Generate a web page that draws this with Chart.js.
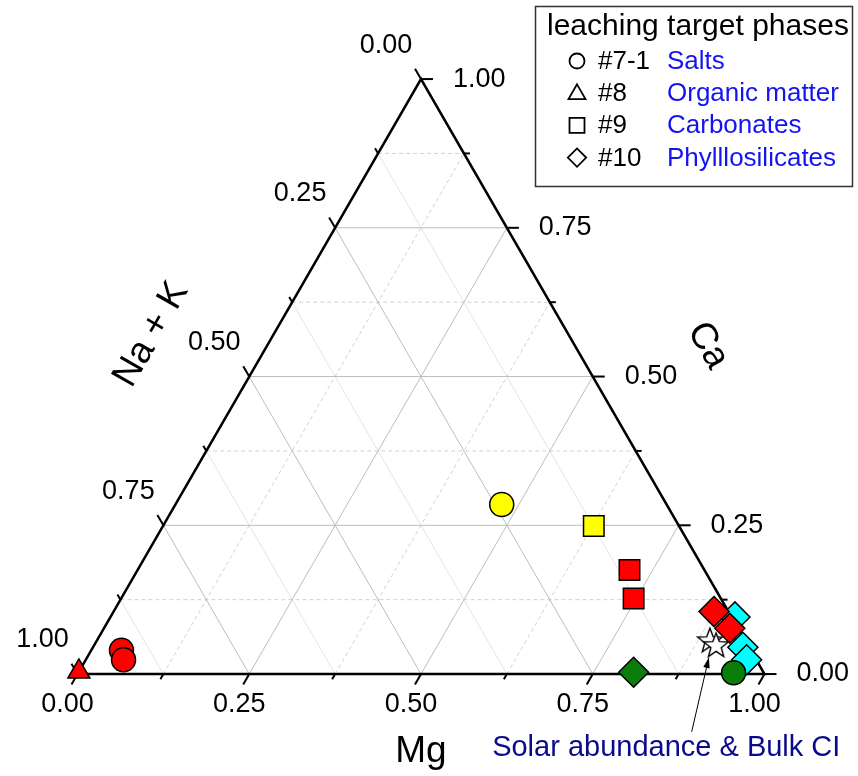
<!DOCTYPE html>
<html>
<head>
<meta charset="utf-8">
<title>Ternary Mg - Ca - Na+K</title>
<script src="https://cdn.jsdelivr.net/npm/chart.js@4.4.1/dist/chart.umd.min.js"></script>
<style>
    html, body { margin: 0; padding: 0; background: #fff; }
    #wrap { width: 858px; height: 776px; }
</style>
</head>
<body>
<div id="wrap"><canvas id="ternary" width="858" height="776"></canvas></div>
<script>
'use strict';

// axis ticks (same for all three axes)
var tickValues = [0, 0.25, 0.5, 0.75, 1];
var tickLabels = ['0.00', '0.25', '0.50', '0.75', '1.00'];
var minorValues = [0.125, 0.375, 0.625, 0.875];

// points as [Mg, Ca], Na + K = 1 - Mg - Ca
var saltsRed = [[0.044, 0.040], [0.055, 0.024]];
var saltsYellow = [[0.475, 0.285]];
var saltsGreen = [[0.954, 0.002]];
var organicRed = [[0.000, 0.004]];
var carbonatesYellow = [[0.627, 0.249]];
var carbonatesRed = [[0.716, 0.175], [0.746, 0.127]];
var phylloGreen = [[0.808, 0.003]];
var phylloRed = [[0.874, 0.105], [0.911, 0.077]];
var phylloCyan = [[0.909, 0.096], [0.946, 0.045], [0.962, 0.024]];
var solarBulkCI = [[0.892, 0.057], [0.905, 0.049]];

var legendTitle = 'leaching target phases';
var legendSteps = ['#7-1', '#8', '#9', '#10'];
var legendPhases = ['Salts', 'Organic matter', 'Carbonates', 'Phylllosilicates'];
var legendShapes = ['circle', 'triangle', 'rect', 'rectRot'];
var axisTitles = ['Mg', 'Ca', 'Na + K'];
var noteText = 'Solar abundance & Bulk CI';

var FONT = '"Liberation Sans", Arial, Helvetica, sans-serif';
var H = Math.sqrt(3) / 2;

function tern(mg, ca) {
    return {x: mg + ca / 2, y: ca * H};
}

function toPoints(list) {
    return list.map(function (p) { return tern(p[0], p[1]); });
}

function makeStar(r) {
    var size = Math.ceil(2 * r + 4),
        c = document.createElement('canvas'),
        g = c.getContext('2d');

    c.width = size;
    c.height = size;
    g.translate(size / 2, size / 2 + 1);
    g.beginPath();
    for (var i = 0; i < 10; i++) {
        var rr = i % 2 ? r * 0.42 : r,
            a = -Math.PI / 2 + i * Math.PI / 5;
        g.lineTo(rr * Math.cos(a), rr * Math.sin(a));
    }
    g.closePath();
    g.fillStyle = '#fff';
    g.fill();
    g.lineWidth = 1.4;
    g.strokeStyle = '#000';
    g.stroke();
    return c;
}

var datasets = [];

function addLine(a, b, color, width, dash, order) {
    datasets.push({
        data: [a, b],
        showLine: true,
        borderColor: color,
        borderWidth: width,
        borderDash: dash,
        pointRadius: 0,
        order: order
    });
}

// grid: Ca = const horizontal, Mg = const parallel to left side, Na+K = const parallel to right side
function addGrid(v, major) {
    var solid = major ? '#bdbdbd' : '#e3e3e3',
        dashed = major ? '#bdbdbd' : '#d2d2d2',
        dash = major ? [] : [4, 3];

    addLine(tern(0, v), tern(1 - v, v), dashed, 1, dash, 20);
    addLine(tern(v, 0), tern(v, 1 - v), dashed, 1, dash, 20);
    addLine(tern(0, 1 - v), tern(1 - v, 0), solid, 1, [], 20);
}

tickValues.slice(1, -1).forEach(function (v) { addGrid(v, true); });
minorValues.forEach(function (v) { addGrid(v, false); });

// frame
datasets.push({
    data: [tern(0, 0), tern(1, 0), tern(0, 1), tern(0, 0)],
    showLine: true,
    borderColor: '#000',
    borderWidth: 2.5,
    pointRadius: 0,
    order: 19
});

// layers: list of [points, colour]; points are drawn in that order, later ones on top
function addMarkers(layers, style, radius, order, label) {
    var data = [], fill = [];

    layers.forEach(function (layer) {
        toPoints(layer[0]).forEach(function (p) {
            data.push(p);
            fill.push(layer[1]);
        });
    });

    datasets.push({
        label: label,
        data: data,
        showLine: false,
        pointStyle: style,
        pointRadius: radius,
        pointBackgroundColor: fill,
        pointBorderColor: '#000',
        pointBorderWidth: 1.5,
        order: order
    });
}

var RED = '#ff0000', YELLOW = '#ffff00', GREEN = '#0a7d0a', CYAN = '#00ffff';

addMarkers([[saltsGreen, GREEN]], 'circle', 12, 0, 'Salts');
addMarkers([[solarBulkCI, '#fff']], makeStar(13), 12, 1, noteText);
addMarkers([
    [phylloCyan.slice(0, 1), CYAN],
    [phylloRed, RED],
    [phylloCyan.slice(1), CYAN]
], 'rectRot', 15, 2, 'Phylllosilicates');
addMarkers([[phylloGreen, GREEN]], 'rectRot', 15, 3, 'Phylllosilicates');
addMarkers([[carbonatesYellow, YELLOW], [carbonatesRed, RED]], 'rect', 14.5, 4, 'Carbonates');
addMarkers([[saltsYellow, YELLOW], [saltsRed, RED]], 'circle', 12, 5, 'Salts');
addMarkers([[organicRed, RED]], 'triangle', 12.7, 6, 'Organic matter');

function pix(chart, p) {
    return {
        x: chart.scales.x.getPixelForValue(p.x),
        y: chart.scales.y.getPixelForValue(p.y)
    };
}

// one entry per axis: base point for value v, outward tick direction, label offset
var axes = [
    {at: function (v) { return tern(v, 0); }, dir: [-0.5, H], label: [-10, 31], align: 'center'},
    {at: function (v) { return tern(1 - v, v); }, dir: [1, 0], label: [32, 0], align: 'left'},
    {at: function (v) { return tern(0, 1 - v); }, dir: [-0.5, -H], label: [-35, -34], align: 'center'}
];

var ternaryDecor = {
    id: 'ternaryDecor',

    beforeDatasetsDraw: function (chart) {
        var ctx = chart.ctx;

        ctx.save();
        ctx.strokeStyle = '#000';
        ctx.lineWidth = 2;
        axes.forEach(function (axis) {
            var draw = function (v, len) {
                var b = pix(chart, axis.at(v));
                ctx.beginPath();
                ctx.moveTo(b.x, b.y);
                ctx.lineTo(b.x + axis.dir[0] * len, b.y + axis.dir[1] * len);
                ctx.stroke();
            };
            tickValues.forEach(function (v) { draw(v, 12); });
            minorValues.forEach(function (v) { draw(v, 6); });
        });
        ctx.restore();
    },

    afterDatasetsDraw: function (chart) {
        var ctx = chart.ctx, opts = chart.options.plugins.ternaryDecor;

        ctx.save();
        ctx.fillStyle = '#000';
        ctx.textBaseline = 'middle';
        ctx.font = '27px ' + FONT;
        axes.forEach(function (axis) {
            ctx.textAlign = axis.align;
            tickValues.forEach(function (v, i) {
                var b = pix(chart, axis.at(v));
                ctx.fillText(tickLabels[i], b.x + axis.label[0], b.y + axis.label[1]);
            });
        });

        // axis titles
        ctx.font = '37px ' + FONT;
        ctx.textAlign = 'center';
        var mid = [tern(0.5, 0), tern(0.5, 0.5), tern(0, 0.5)],
            shift = [[0, 78], [115, -31], [-98, -42]],
            turn = [0, Math.PI / 3, -Math.PI / 3];
        axisTitles.forEach(function (t, i) {
            var b = pix(chart, mid[i]);
            ctx.save();
            ctx.translate(b.x + shift[i][0], b.y + shift[i][1]);
            ctx.rotate(turn[i]);
            ctx.fillText(t, 0, 0);
            ctx.restore();
        });

        // note with arrow
        var tip = pix(chart, opts.arrow[0]), tail = pix(chart, opts.arrow[1]),
            ang = Math.atan2(tip.y - tail.y, tip.x - tail.x);
        ctx.strokeStyle = '#000';
        ctx.lineWidth = 1;
        ctx.beginPath();
        ctx.moveTo(tail.x, tail.y);
        ctx.lineTo(tip.x, tip.y);
        ctx.stroke();
        ctx.beginPath();
        ctx.moveTo(tip.x, tip.y);
        ctx.lineTo(tip.x - 11 * Math.cos(ang - 0.3), tip.y - 11 * Math.sin(ang - 0.3));
        ctx.lineTo(tip.x - 11 * Math.cos(ang + 0.3), tip.y - 11 * Math.sin(ang + 0.3));
        ctx.closePath();
        ctx.fillStyle = '#000';
        ctx.fill();

        var n = pix(chart, opts.notePos);
        ctx.font = '29px ' + FONT;
        ctx.fillStyle = '#0a0a8c';
        ctx.fillText(noteText, n.x, n.y);

        // legend box
        ctx.strokeStyle = '#333';
        ctx.lineWidth = 1.5;
        ctx.strokeRect(535.5, 6.5, 317, 180);
        ctx.textAlign = 'left';
        ctx.textBaseline = 'alphabetic';
        ctx.fillStyle = '#000';
        ctx.font = '30px ' + FONT;
        ctx.fillText(legendTitle, 547, 35);

        ctx.font = '26px ' + FONT;
        legendSteps.forEach(function (s, i) {
            var base = 69 + i * 32.2,
                radii = [7.5, 9.8, 10.6, 9.2];
            ctx.fillStyle = '#000';
            ctx.fillText(s, 598, base);
            ctx.fillStyle = '#1414f0';
            ctx.fillText(legendPhases[i], 667, base);

            ctx.save();
            ctx.fillStyle = 'rgba(255,255,255,0)';
            ctx.strokeStyle = '#000';
            ctx.lineWidth = 1.8;
            Chart.helpers.drawPoint(ctx, {
                pointStyle: legendShapes[i],
                radius: radii[i],
                rotation: 0,
                borderWidth: 1.8
            }, 577, base - 8 + (i === 1 ? 1 : 0));
            ctx.restore();
        });
        ctx.restore();
    }
};

new Chart(document.getElementById('ternary'), {
    type: 'scatter',
    data: {datasets: datasets},
    options: {
        responsive: false,
        animation: false,
        layout: {padding: 0, autoPadding: false},
        scales: {
            x: {type: 'linear', min: -0.1128, max: 1.1361, display: false},
            y: {type: 'linear', min: -0.1484, max: 0.9811, display: false}
        },
        plugins: {
            legend: {display: false},
            tooltip: {enabled: false},
            ternaryDecor: {
                arrow: [{x: 0.919, y: 0.024}, {x: 0.894, y: -0.084}],
                notePos: {x: 0.857, y: -0.108}
            }
        }
    },
    plugins: [ternaryDecor]
});
</script>
</body>
</html>
